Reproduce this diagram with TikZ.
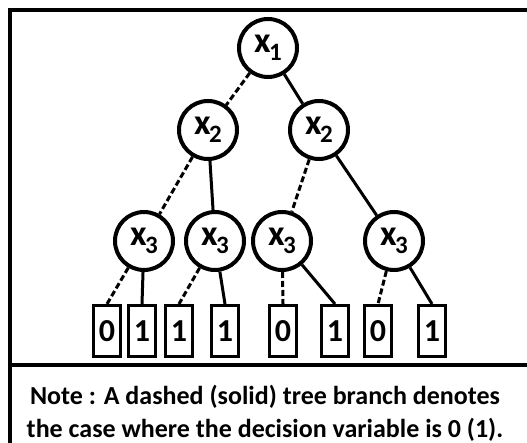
\documentclass[tikz,border=0pt]{standalone}
\usepackage{fontspec}
\setmainfont{Carlito}
\begin{document}
\begin{tikzpicture}[x=1pt,y=-1pt,
  var/.style={circle,draw,line width=4pt,minimum size=58pt,inner sep=0pt,font=\bfseries},
  leaf/.style={rectangle,draw,line width=3pt,minimum width=27pt,minimum height=51pt,inner sep=0pt,font=\bfseries\fontsize{32}{32}\selectfont},
  zero/.style={line width=3pt,dash pattern=on 6pt off 3pt},
  one/.style={line width=3pt},
  frame/.style={line width=3.5pt}]
\useasboundingbox (0,0) rectangle (527,443);
\newcommand{\xv}[1]{{\fontsize{36}{36}\selectfont x}\kern-1.5pt\raisebox{-8pt}{\fontsize{25}{25}\selectfont #1}}
\draw[frame] (10,460) -- (10,10) -- (540,10);
\draw[frame] (10,365) -- (540,365);
\node[var] (a) at (268,48) {\xv{1}};
\node[var] (b1) at (208,130) {\xv{2}};
\node[var] (b2) at (319,130) {\xv{2}};
\node[var] (c1) at (144,241) {\xv{3}};
\node[var] (c2) at (215,241) {\xv{3}};
\node[var] (c3) at (282,241) {\xv{3}};
\node[var] (c4) at (394,241) {\xv{3}};
\node[leaf] (l1) at (107,331) {0};
\node[leaf] (l2) at (142,331) {1};
\node[leaf] (l3) at (179,331) {1};
\node[leaf] (l4) at (225,331) {1};
\node[leaf] (l5) at (283,331) {0};
\node[leaf] (l6) at (335,331) {1};
\node[leaf] (l7) at (378,331) {0};
\node[leaf] (l8) at (432,331) {1};
\draw[zero] (a) -- (b1);
\draw[one] (a) -- (b2);
\draw[zero] (b1) -- (c1);
\draw[one] (b1) -- (c2);
\draw[zero] (b2) -- (c3);
\draw[one] (b2) -- (c4);
\draw[zero] (c1) -- (l1.north);
\draw[one] (c1) -- (l2.north);
\draw[zero] (c2) -- (l3.north);
\draw[one] (c2) -- (l4.north);
\draw[zero] (c3) -- (l5.north);
\draw[one] (c3) -- (l6.north);
\draw[zero] (c4) -- (l7.north);
\draw[one] (c4) -- (l8.north);
\node[font=\bfseries\fontsize{26}{33}\selectfont,align=center,inner sep=0pt] (note) at (265,413)
  {Note : A dashed (solid) tree branch denotes\\the case where the decision variable is 0 (1).};
\end{tikzpicture}
\end{document}
